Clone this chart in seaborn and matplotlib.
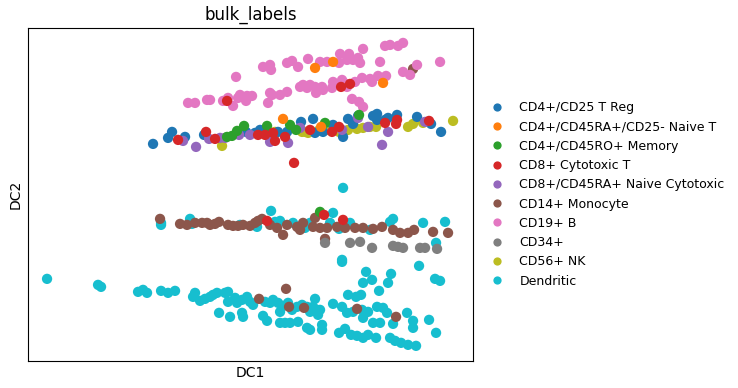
import numpy as np
import pandas as pd
import matplotlib
matplotlib.use("Agg")
import matplotlib.pyplot as plt
import seaborn as sns

# diffusion map coordinates (DC1, DC2) per bulk label
labels = ["CD4+/CD25 T Reg", "CD4+/CD45RA+/CD25- Naive T", "CD4+/CD45RO+ Memory",
          "CD8+ Cytotoxic T", "CD8+/CD45RA+ Naive Cytotoxic", "CD14+ Monocyte",
          "CD19+ B", "CD34+", "CD56+ NK", "Dendritic"]
colors = ["#1f77b4", "#ff7f0e", "#2ca02c", "#d62728", "#9467bd",
          "#8c564b", "#e377c2", "#7f7f7f", "#bcbd22", "#17becf"]

dendritic = [
    (-0.089, -0.025), (-0.089, -0.023), (-0.060, -0.019), (-0.058, -0.024), (-0.010, -0.025),
    (0.021, -0.011), (0.025, -0.022), (0.030, -0.021), (0.043, -0.023), (0.055, -0.028),
    (0.007, -0.027), (0.093, 0.012), (0.083, -0.013), (0.060, -0.023), (0.080, -0.023),
    (0.089, -0.029), (0.100, -0.023), (0.120, -0.030), (0.140, -0.022), (0.143, -0.019),
    (0.173, -0.023), (0.195, -0.022), (0.186, -0.043), (0.092, -0.060),
    (-0.203, -0.079), (-0.152, -0.085), (-0.149, -0.087), (-0.112, -0.092), (-0.107, -0.090),
    (-0.103, -0.093), (-0.089, -0.091), (-0.082, -0.093), (-0.075, -0.091), (-0.055, -0.093),
    (-0.057, -0.097), (-0.050, -0.101), (-0.045, -0.099), (-0.040, -0.097), (-0.037, -0.095),
    (-0.033, -0.093), (-0.025, -0.093), (-0.022, -0.092), (-0.022, -0.102), (-0.015, -0.098),
    (-0.013, -0.103), (-0.008, -0.100), (-0.003, -0.097), (0.000, -0.102), (0.003, -0.105),
    (-0.031, -0.113), (-0.020, -0.117), (-0.008, -0.113), (-0.007, -0.117), (0.013, -0.116),
    (0.017, -0.121), (0.015, -0.102), (0.020, -0.103), (0.023, -0.100), (0.028, -0.103),
    (0.030, -0.112), (0.033, -0.106), (0.038, -0.103), (0.042, -0.110), (0.047, -0.107),
    (0.052, -0.105), (0.057, -0.107), (0.060, -0.112), (0.065, -0.099), (0.067, -0.110),
    (0.030, -0.123), (0.035, -0.123), (0.040, -0.123), (0.048, -0.122), (0.057, -0.128),
    (0.060, -0.130), (0.068, -0.115), (0.092, -0.062), (0.169, -0.066), (0.116, -0.072),
    (0.141, -0.074), (0.122, -0.080), (0.113, -0.083), (0.138, -0.083), (0.185, -0.079),
    (0.190, -0.081), (0.129, -0.091), (0.098, -0.095), (0.106, -0.097), (0.111, -0.095),
    (0.063, -0.107), (0.070, -0.110), (0.083, -0.104), (0.092, -0.107), (0.097, -0.113),
    (0.103, -0.112), (0.112, -0.110), (0.118, -0.112), (0.127, -0.107), (0.133, -0.108),
    (0.137, -0.113), (0.113, -0.118), (0.123, -0.123), (0.130, -0.123), (0.143, -0.124),
    (0.157, -0.113), (0.163, -0.121), (0.179, -0.120), (0.163, -0.128), (0.186, -0.133),
    (0.072, -0.130), (0.072, -0.125), (0.089, -0.133), (0.095, -0.129), (0.101, -0.135),
    (0.107, -0.136), (0.113, -0.138), (0.118, -0.135), (0.126, -0.138), (0.140, -0.138),
    (0.145, -0.141), (0.151, -0.143), (0.158, -0.145), (0.166, -0.146),
]
monocyte = [
    (-0.090, -0.019), (-0.070, -0.024), (-0.063, -0.025), (-0.055, -0.023), (-0.048, -0.023),
    (-0.043, -0.023), (-0.040, -0.025), (-0.035, -0.024), (-0.031, -0.022), (-0.022, -0.025),
    (-0.017, -0.026), (-0.012, -0.026), (-0.007, -0.025), (0.000, -0.026), (0.005, -0.023),
    (0.008, -0.021), (0.012, -0.019), (0.020, -0.025), (0.027, -0.028), (0.033, -0.035),
    (0.037, -0.025), (0.047, -0.027), (0.050, -0.030), (0.065, -0.018), (0.053, -0.023),
    (0.063, -0.027), (0.070, -0.028), (0.077, -0.028), (0.087, -0.027), (0.095, -0.028),
    (0.105, -0.028), (0.113, -0.028), (0.123, -0.029), (0.132, -0.027), (0.143, -0.030),
    (0.150, -0.033), (0.158, -0.033), (0.164, -0.030), (0.183, -0.032), (0.198, -0.033),
    (0.075, -0.039), (0.036, -0.089), (0.009, -0.099), (0.054, -0.108), (0.039, -0.107),
    (0.107, -0.109), (0.146, -0.117), (0.163, 0.131),
]
cd34 = [
    (0.075, -0.043), (0.100, -0.043), (0.110, -0.042), (0.122, -0.048), (0.143, -0.046),
    (0.148, -0.047), (0.153, -0.048), (0.170, -0.048), (0.175, -0.048), (0.187, -0.049),
]
b_cells = [
    (0.013, 0.133), (0.020, 0.135), (0.021, 0.130), (0.037, 0.137), (0.042, 0.139),
    (0.048, 0.133), (0.058, 0.141), (-0.014, 0.123), (0.050, 0.113), (0.057, 0.112),
    (0.020, 0.107), (0.022, 0.105), (0.030, 0.105), (0.037, 0.108), (-0.010, 0.105),
    (-0.003, 0.104), (0.002, 0.104), (-0.012, 0.102), (-0.004, 0.099), (-0.022, 0.102),
    (-0.027, 0.099), (-0.040, 0.100), (-0.043, 0.100), (-0.055, 0.097), (-0.062, 0.097),
    (-0.017, 0.094), (0.018, 0.097), (0.153, 0.157), (0.148, 0.154), (0.140, 0.155),
    (0.135, 0.154), (0.113, 0.151), (0.090, 0.146), (0.099, 0.146), (0.108, 0.142),
    (0.110, 0.137), (0.103, 0.140), (0.097, 0.140), (0.089, 0.137), (0.070, 0.138),
    (0.077, 0.138), (0.130, 0.138), (0.190, 0.138), (0.167, 0.135), (0.153, 0.128),
    (0.160, 0.125), (0.053, 0.115), (0.060, 0.115), (0.065, 0.113), (0.072, 0.113),
    (0.066, 0.107), (0.073, 0.110), (0.082, 0.112), (0.083, 0.118), (0.092, 0.120),
    (0.105, 0.118), (0.112, 0.122), (0.120, 0.121), (0.122, 0.118), (0.128, 0.124),
    (0.136, 0.124), (0.102, 0.101), (0.109, 0.098), (0.113, 0.093), (0.094, 0.117),
    (0.097, 0.113),
]
nk = [
    (-0.028, 0.054), (0.055, 0.068), (0.052, 0.068), (0.058, 0.067), (0.089, 0.068),
    (0.098, 0.070), (0.107, 0.071), (0.113, 0.072), (0.120, 0.073), (0.126, 0.073),
    (0.158, 0.073), (0.163, 0.076), (0.173, 0.077), (0.203, 0.079), (0.025, 0.068),
    (0.068, 0.069), (0.078, 0.070),
]
treg = [
    (-0.097, 0.056), (-0.082, 0.062), (-0.078, 0.068), (-0.065, 0.063), (-0.046, 0.065),
    (-0.004, 0.068), (0.005, 0.067), (0.018, 0.067), (0.028, 0.068), (0.037, 0.068),
    (0.051, 0.078), (0.063, 0.081), (0.065, 0.067), (0.073, 0.068), (0.083, 0.075),
    (0.093, 0.063), (0.098, 0.081), (0.103, 0.076), (0.108, 0.084), (0.123, 0.084),
    (0.127, 0.086), (0.127, 0.080), (0.135, 0.080), (0.138, 0.082), (0.147, 0.085),
    (0.167, 0.083), (0.181, 0.076), (0.191, 0.068), (0.010, 0.070),
]
naive_cyto = [
    (-0.067, 0.059), (-0.054, 0.053), (-0.041, 0.061), (-0.030, 0.062), (-0.025, 0.062),
    (-0.011, 0.065), (0.000, 0.065), (0.020, 0.058), (0.038, 0.057), (0.092, 0.070),
    (0.108, 0.082), (0.118, 0.073), (0.138, 0.068), (0.132, 0.055), (0.175, 0.078),
    (0.050, 0.072),
]
memory = [
    (-0.023, 0.063), (-0.013, 0.069), (-0.006, 0.074), (0.017, 0.074), (0.040, 0.075),
    (0.046, 0.070), (0.075, 0.077), (0.109, 0.085), (0.070, -0.012), (-0.018, 0.064),
]
cytotoxic = [
    (-0.023, 0.099), (0.091, 0.113), (0.100, 0.116), (-0.072, 0.060), (-0.044, 0.068),
    (-0.035, 0.061), (0.008, 0.065), (0.015, 0.065), (0.025, 0.059), (0.023, 0.067),
    (0.035, 0.063), (0.044, 0.037), (0.060, 0.070), (0.082, 0.068), (0.089, 0.073),
    (0.135, 0.077), (0.146, 0.076), (0.147, 0.080), (0.179, 0.079), (0.017, -0.021),
    (0.074, -0.015), (0.093, -0.020),
]
naive_t = [(0.065, 0.132), (0.083, 0.138), (0.133, 0.117), (0.033, 0.081), (0.071, 0.073)]

# drawing order (later rows on top)
groups = [("Dendritic", dendritic), ("CD14+ Monocyte", monocyte), ("CD34+", cd34),
          ("CD19+ B", b_cells), ("CD56+ NK", nk), ("CD4+/CD25 T Reg", treg),
          ("CD8+/CD45RA+ Naive Cytotoxic", naive_cyto), ("CD4+/CD45RO+ Memory", memory),
          ("CD8+ Cytotoxic T", cytotoxic), ("CD4+/CD45RA+/CD25- Naive T", naive_t)]

rows = []
for name, pts in groups:
    for x, y in pts:
        rows.append({"DC1": x, "DC2": y, "bulk_labels": name})
df = pd.DataFrame(rows)

fig = plt.figure(figsize=(7.38, 3.88), dpi=100)
ax = fig.add_axes([0.038, 0.07, 0.603, 0.858])
sns.scatterplot(data=df, x="DC1", y="DC2", hue="bulk_labels", hue_order=labels,
                palette=dict(zip(labels, colors)), s=55, linewidth=0, ax=ax)
ax.set_xlim(-0.222, 0.223)
ax.set_ylim(-0.161, 0.172)
ax.set_xticks([])
ax.set_yticks([])
ax.set_title("bulk_labels", fontsize=12)
ax.set_xlabel("DC1", fontsize=10)
ax.set_ylabel("DC2", fontsize=10)
ax.legend(loc="center left", bbox_to_anchor=(1.0, 0.5), frameon=False,
          fontsize=9, markerscale=0.8, labelspacing=0.5, handletextpad=0.8)
fig.savefig("out.png", dpi=100)
